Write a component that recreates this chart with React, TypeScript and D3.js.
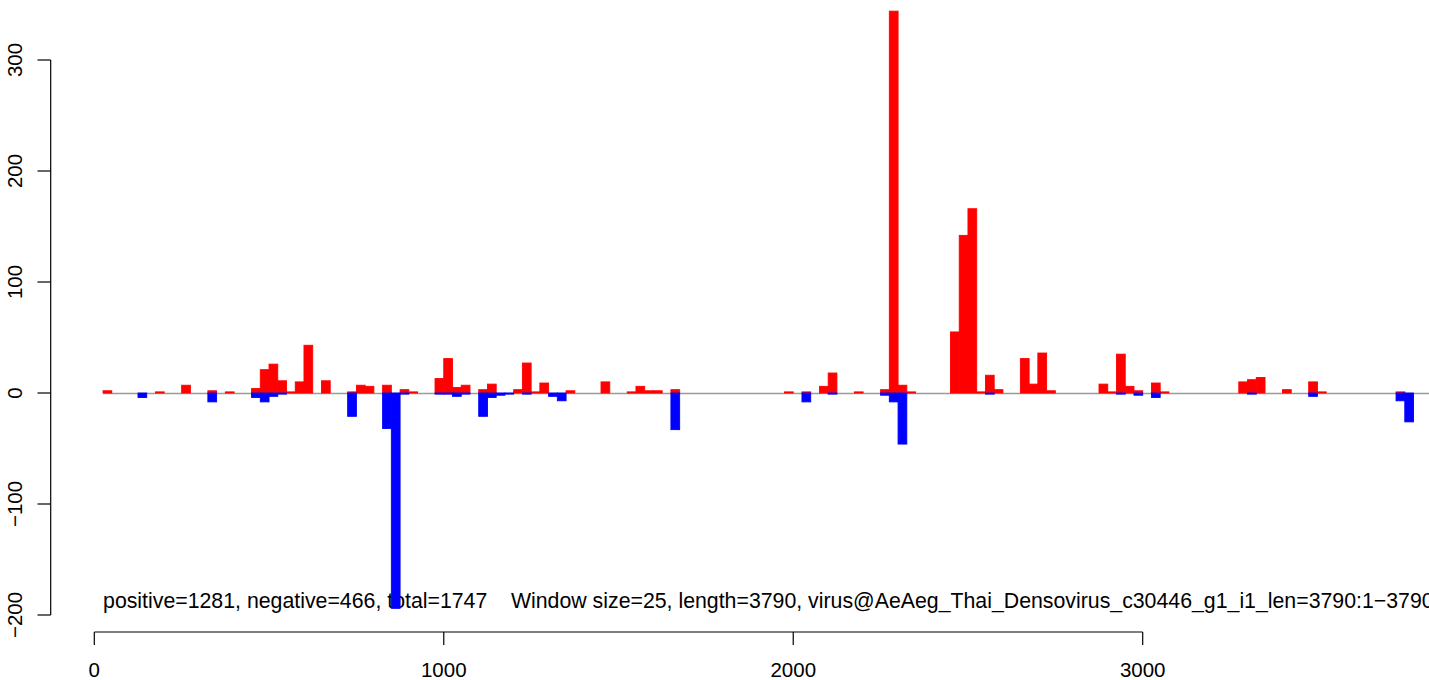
import React from "react";
import * as d3 from "d3";

const N = null;
const WINDOW = 25;

// counts per 25-nt window (index k covers k*25 .. k*25+25), null = window not plotted
const positive: (number | null)[] = [
  N, 2, N, N, N, N, 0, 1, N, N,
  7, N, 0, 2, N, 1, N, N, 4, 21,
  26, 11, 1, 10, 43, N, 11, N, 0, 1,
  7, 6, N, 7, 0, 3, 1, N, N, 13,
  31, 5, 7, 0, 3, 8, N, 0, 3, 27,
  1, 9, 0, N, 2, 0, 0, N, 10, N,
  0, 1, 6, 2, 2, N, 3, 0, N, N,
  N, N, N, 0, 0, 0, N, N, N, 1,
  0, 1, 0, 6, 18, N, N, 1, N, N,
  3, 344, 7, 1, 0, 0, 0, 0, 55, 142,
  166, 1, 16, 3, 0, N, 31, 8, 36, 2,
  N, N, N, 0, N, 8, 1, 35, 6, 2,
  N, 9, 1, N, N, N, 0, N, N, 0,
  N, 10, 12, 14, 0, N, 3, N, 0, 10,
  1, 0, 0, N, N, N, N, N, 0, 1,
  N, N,
];

const negative: (number | null)[] = [
  N, 0, N, N, 0, 4, N, 0, N, N,
  N, 0, N, 8, 0, N, N, N, 4, 8,
  3, 1, 0, 0, 0, 0, 0, 0, N, 21,
  0, 0, 0, 32, 194, 1, N, N, N, 1,
  1, 3, 1, N, 21, 4, 2, 1, N, 1,
  0, 0, 3, 7, 0, N, N, N, 0, 0,
  N, N, N, 0, 0, N, 33, N, N, N,
  N, N, N, N, N, N, 0, 0, N, 0,
  N, 8, N, N, 1, 0, N, 0, N, 0,
  2, 8, 46, N, N, N, N, N, 0, 0,
  0, N, 1, 0, N, N, 0, 0, 0, N,
  0, 0, N, N, N, 0, N, 1, 0, 2,
  0, 4, N, 0, 0, N, N, N, N, N,
  N, 0, 1, 0, N, 0, 0, N, N, 3,
  0, N, N, N, N, N, N, 0, N, 7,
  26, 0,
];

const xTicks = [0, 1000, 2000, 3000];
const yTicks = [-200, -100, 0, 100, 200, 300];
const note =
  "positive=1281, negative=466, total=1747    Window size=25, length=3790, virus@AeAeg_Thai_Densovirus_c30446_g1_i1_len=3790:1\u22123790";

const W = 1429;
const H = 680;
const FONT = "'Liberation Sans', Arial, Helvetica, sans-serif";

const fmt = (v: number) => (v < 0 ? "\u2212" + Math.abs(v) : String(v));

export default function App() {
  const x = d3.scaleLinear().domain([0, 3000]).range([94.3, 1142.7]);
  const y = d3.scaleLinear().domain([0, 300]).range([393, 60]);
  const y0 = y(0);

  const bars = positive.map((p, k) => ({ k, p, n: negative[k] }));

  return (
    <div style={{ position: "absolute", left: 0, top: 0 }}>
      <svg width={W} height={H} style={{ display: "block", overflow: "hidden" }} fontFamily={FONT}>
        <rect width={W} height={H} fill="#fff" />

        {/* run summary, drawn under the bars */}
        <text x={x(25)} y={608} fontSize={21.3} fill="#000" style={{ whiteSpace: "pre" }}>
          {note}
        </text>

        <line x1={x(25)} x2={x(3830)} y1={y0 + 0.5} y2={y0 + 0.5} stroke="#9a9a9a" strokeWidth={1.4} />

        {bars
          .filter((b) => b.p !== null)
          .map((b) => (
            <rect
              key={"p" + b.k}
              x={x(b.k * WINDOW)}
              width={x((b.k + 1) * WINDOW) - x(b.k * WINDOW)}
              y={y(b.p as number)}
              height={y0 - y(b.p as number)}
              fill="#ff0000"
              stroke="#ff0000"
              strokeWidth={0.9}
            />
          ))}
        {bars
          .filter((b) => b.n !== null)
          .map((b) => (
            <rect
              key={"n" + b.k}
              x={x(b.k * WINDOW)}
              width={x((b.k + 1) * WINDOW) - x(b.k * WINDOW)}
              y={y0}
              height={y(-(b.n as number)) - y0}
              fill="#0000ff"
              stroke="#0000ff"
              strokeWidth={0.9}
            />
          ))}

        {/* y axis */}
        <g stroke="#000" strokeWidth={1.2}>
          <line x1={50.7} x2={50.7} y1={y(300)} y2={y(-200)} />
          {yTicks.map((t) => (
            <line key={t} x1={37.5} x2={50.7} y1={y(t)} y2={y(t)} />
          ))}
        </g>
        {yTicks.map((t) => (
          <text
            key={t}
            transform={`translate(22,${y(t)}) rotate(-90)`}
            textAnchor="middle"
            fontSize={20.5}
            fill="#000"
          >
            {fmt(t)}
          </text>
        ))}

        {/* x axis */}
        <g stroke="#000" strokeWidth={1.2}>
          <line x1={x(0)} x2={x(3000)} y1={632} y2={632} />
          {xTicks.map((t) => (
            <line key={t} x1={x(t)} x2={x(t)} y1={632} y2={645} />
          ))}
        </g>
        {xTicks.map((t) => (
          <text key={t} x={x(t)} y={677} textAnchor="middle" fontSize={20.5} fill="#000">
            {t}
          </text>
        ))}
      </svg>
    </div>
  );
}
